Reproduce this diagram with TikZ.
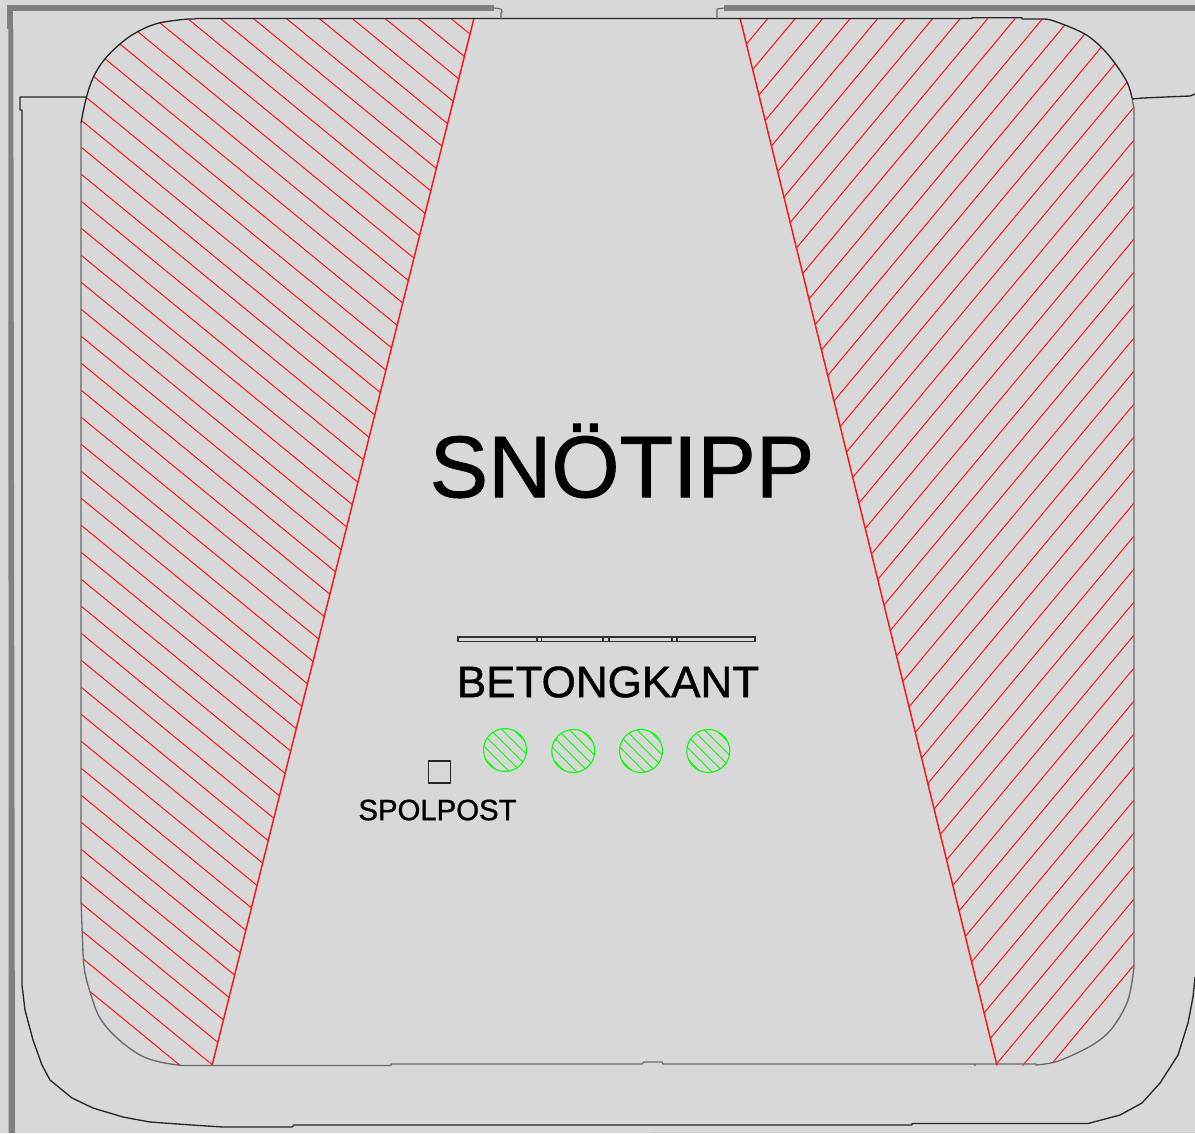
\documentclass[tikz,border=0pt]{standalone}
\usepackage{fontspec}
\setmainfont{Liberation Sans}
\newfontfamily\heavyfont[FakeBold=1]{Liberation Sans}
\definecolor{bgc}{RGB}{216,216,216}
\definecolor{wallc}{RGB}{128,128,128}
\definecolor{edgec}{RGB}{105,105,105}
\definecolor{hred}{RGB}{255,20,20}
\definecolor{hgreen}{RGB}{0,255,0}
\tikzset{
  wall/.style={draw=wallc,line width=4.2pt,line cap=butt},
  thinwall/.style={draw=edgec,line width=.85pt,line join=miter},
  outline/.style={draw=black!85,line width=1pt,line join=round},
  softline/.style={draw=edgec,line width=1pt,line join=round},
  hatch/.style={draw=hred,line width=.75pt},
  boundary/.style={draw=hred,line width=1.1pt},
  ghatch/.style={draw=hgreen,line width=.6pt},
  gcircle/.style={draw=hgreen,line width=.8pt},
  kerb/.style={draw=black!80,line width=.85pt},
  label/.style={inner sep=0pt,text=black,anchor=center}
}
\begin{document}
\begin{tikzpicture}[x=.75pt,y=-.75pt]
\fill[bgc] (0,0) rectangle (1195,1133);
\useasboundingbox (0,0) rectangle (1195,1133);
\def\shape{plot[smooth,tension=.6] coordinates {(81,123) (86,99) (93,78) (104,60) (120,44) (137,32) (159,23) (188,19)} -- (195,18.5) -- plot[smooth,tension=.6] coordinates {(1022,18.5) (1043,19) (1054,21) (1083,33) (1100,46) (1114,62) (1127,82) (1132,98) (1134,108)} -- plot[smooth,tension=.6] coordinates {(1134,967) (1128,1000) (1113,1027) (1097,1042) (1077,1053) (1055,1062) (1036,1065.5)} -- plot[smooth,tension=.6] coordinates {(182,1065.5) (160,1062) (140,1055) (117,1038) (100,1018) (91,995) (85,973) (83,953)} -- (81,900) -- cycle}
% hatching, left
\begin{scope}
\clip \shape;
\clip (0,18) -- (474,18) -- (212,1065.5) -- (0,1065.5) -- cycle;
\foreach \k in {-10,...,39}{
  \pgfmathsetmacro{\ya}{-135.3+27*\k+.82*60}
  \pgfmathsetmacro{\yb}{-135.3+27*\k+.82*500}
  \draw[hatch] (60,\ya) -- (500,\yb);
}
\end{scope}
% hatching, right
\begin{scope}
\clip \shape;
\clip (740,18) -- (1195,18) -- (1195,1065.5) -- (997,1065.5) -- cycle;
\foreach \k in {-20,...,26}{
  \pgfmathsetmacro{\ya}{1467.8+33*\k-1.2*700}
  \pgfmathsetmacro{\yb}{1467.8+33*\k-1.2*1160}
  \draw[hatch] (700,\ya) -- (1160,\yb);
}
\end{scope}
\draw[boundary] (474,18) -- (212,1065.5);
\draw[boundary] (740,18) -- (997,1065.5);
% outlines of the pit
\draw[outline] plot[smooth,tension=.6] coordinates {(81,123) (86,99) (93,78) (104,60) (120,44) (137,32) (159,23) (188,19)} -- (195,19) -- (195,18.5) -- (972,18.5) -- (972,17.7) -- (1022,17.7) -- (1022,19) -- (1043,19);
\draw[outline] plot[smooth,tension=.6] coordinates {(1043,19) (1054,21) (1083,33) (1100,46) (1114,62) (1127,82) (1132,98)};
\draw[softline] (1132,98) -- (1134,108) -- (1134,967);
\draw[softline] plot[smooth,tension=.6] coordinates {(1134,967) (1128,1000) (1113,1027) (1097,1042) (1077,1053) (1055,1062) (1036,1065)} -- (1036,1064) -- (975,1064) -- (975,1065.5) -- (974,1064) -- (663,1064) -- (662,1062) -- (644,1062) -- (642,1064) -- (391,1064) -- (391,1065.5) -- (182,1065.5);
\draw[softline] plot[smooth,tension=.6] coordinates {(182,1065.5) (160,1062) (140,1055) (117,1038) (100,1018) (91,995) (85,973) (83,953)} -- (81,900) -- (81,123);
% walls
\draw[wall] (494,7.7) -- (8,7.7);
\draw[wall] (724,7.7) -- (1195,7.7);
\fill[wallc] (7.4,5) rectangle (13.3,29);
\fill[wallc] (8.4,29) -- (13.3,29) -- (15,1133) -- (8.6,1133) -- cycle;
\draw[thinwall] (494,8) -- (501,9) -- (502,12) -- (501,13) -- (501,19);
\draw[thinwall] (724,8) -- (717,9) -- (717,19);
\draw[draw=black!20,line width=.8pt] (650,1132.5) -- (1195,1132.5);
% outer kerb
\draw[outline] (86,97) -- (20,97) -- (20,110) -- (22,110) -- (22,985) -- (25,1010) -- (33,1040) -- (42,1065) -- (50,1080) -- (72,1098) -- (93,1108) -- (123,1117) -- (150,1122) -- (192,1125) -- (223,1127) -- (292,1127) -- (294,1125) -- (912,1125) -- (912,1123.5) -- (1088,1123.5) -- (1120,1115) -- (1142,1103) -- (1160,1083) -- (1178,1055) -- (1188,1023) -- (1193,997) -- (1195,977);
\draw[outline] (1132,99) -- (1143,98) -- (1165,97) -- (1190,96) -- (1195,94);
% concrete kerb
\draw[kerb] (458,637) rectangle (755,641.5);
\foreach \xx/\xy in {537/541.7,603/609,672/677}{\draw[kerb] (\xx,637) -- (\xx,641.5) (\xy,637) -- (\xy,641.5);}
% wells
\foreach \cx/\cy in {505/750,573.3/751,641/751,708.3/751}{
  \begin{scope}
    \clip (\cx,\cy) circle[radius=21.5];
    \foreach \k in {-3,...,2}{\draw[ghatch] (\cx-30,\cy-30+\k*11.5+5.75) -- (\cx+30,\cy+30+\k*11.5+5.75);}
  \end{scope}
  \draw[gcircle] (\cx,\cy) circle[radius=21.5];
}
% post
\node[draw=black!85,line width=1pt,minimum size=16.5pt,inner sep=0pt] (post) at (439.7,772) {};
% texts
\node[label,font=\heavyfont\fontsize{65.7}{66}\selectfont] (title) at (622,461) {SNÖTIPP};
\node[label,font=\heavyfont\fontsize{33}{33}\selectfont] (kant) at (608,682) {BETONGKANT};
\node[label,font=\heavyfont\fontsize{22}{22}\selectfont] (spol) at (437.5,810) {SPOLPOST};
\end{tikzpicture}
\end{document}
